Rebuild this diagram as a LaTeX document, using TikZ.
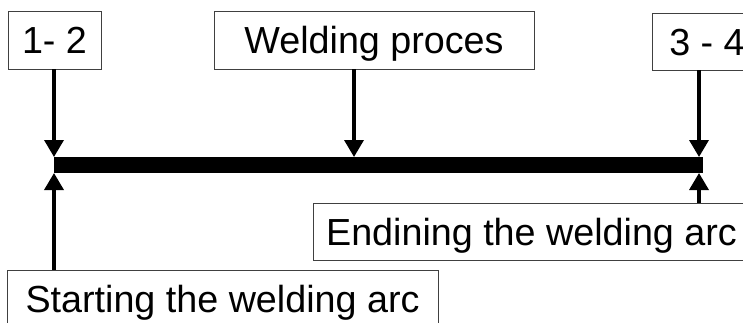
\documentclass[tikz,border=0pt]{standalone}
\usepackage{fontspec}
\setmainfont{Liberation Sans}
\usetikzlibrary{arrows.meta}

\begin{document}
\begin{tikzpicture}[x=1pt,y=-1pt,
        lbl/.style={draw=black!75,line width=0.8pt,minimum height=58pt,inner sep=0pt,
            text height=27pt,text depth=0pt,font=\fontsize{37.7}{40}\selectfont},
        arr/.style={line width=3.5pt,-{Triangle[width=19pt,length=17pt]}}]
            \useasboundingbox (0,0) rectangle (743,322);
            \clip (0,0) rectangle (743,322);

            \coordinate (b1) at (54,157);
            \coordinate (bm) at (354,157);
            \coordinate (b2) at (699,157);
            \coordinate (c1) at (54,173);
            \coordinate (c2) at (699,173);

            \fill (54,157) rectangle (703,173);

            \node[lbl,minimum width=93pt] (p12) at (54.5,40) {1- 2};
            \node[lbl,minimum width=320pt] (wp) at (374,40) {Welding proces};
            \node[lbl,minimum width=110pt,minimum height=57pt] (p34) at (707,41.5) {3 - 4};
            \node[lbl,minimum width=437pt,minimum height=57pt] (endarc) at (531.5,231.5) {Endining the welding arc};
            \node[lbl,minimum width=431pt] (startarc) at (222.5,299) {Starting the welding arc};

            \draw [arr] (p12.south -| b1) -- (b1);
            \draw [arr] (wp.south -| bm) -- (bm);
            \draw [arr] (p34.south -| b2) -- (b2);
            \draw [arr] (startarc.north -| c1) -- (c1);
            \draw [arr] (endarc.north -| c2) -- (c2);
        \end{tikzpicture}
\end{document}
